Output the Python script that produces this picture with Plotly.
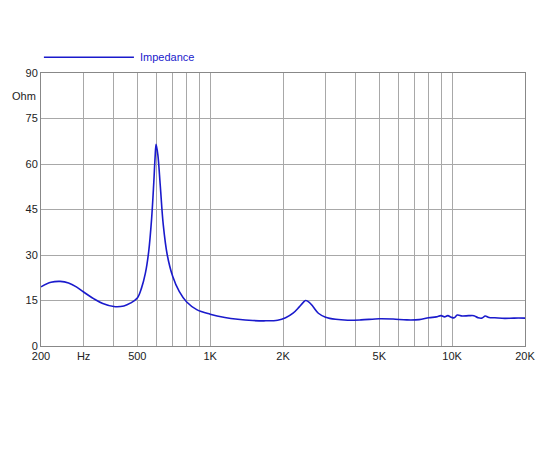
import plotly.graph_objects as go

# Impedance curve
freq = [200, 220, 240, 260, 280, 300, 330, 360, 400, 440, 470, 500, 520, 540, 557, 573, 585, 592, 598, 608,
        622, 640, 665, 700, 745, 800, 880, 1000, 1150, 1300, 1500, 1700, 1900, 2050, 2200, 2330, 2420, 2480,
        2560, 2660, 2800, 3000, 3300, 3700, 4200, 5000, 5700, 6500, 7300, 8000, 8600, 9000, 9300, 9600, 9900,
        10200, 10500, 11000, 11700, 12300, 12800, 13300, 13700, 14200, 15000, 16500, 18000, 20000]
imp = [19.5, 21.0, 21.3, 20.8, 19.5, 17.8, 15.6, 14.0, 13.0, 13.2, 14.2, 15.8, 19.0, 24.0, 31.0, 42.0, 54.0, 62.0, 66.5, 63.0,
       53.0, 40.0, 30.0, 23.0, 18.0, 14.5, 12.0, 10.5, 9.4, 8.8, 8.4, 8.3, 8.5, 9.3, 10.8, 12.8, 14.3, 15.0,
       14.5, 13.0, 10.8, 9.5, 8.8, 8.5, 8.6, 9.0, 8.9, 8.6, 8.7, 9.3, 9.6, 10.0, 9.6, 10.0, 9.5,
       9.3, 10.2, 9.9, 10.0, 10.0, 9.3, 9.2, 9.9, 9.4, 9.3, 9.1, 9.2, 9.2]

x_grid = [200, 300, 400, 500, 600, 700, 800, 900, 1000, 2000, 3000, 4000, 5000, 6000, 7000, 8000, 9000, 10000, 20000]
x_text = ["200", "Hz", "", "500", "", "", "", "", "1K", "2K", "", "", "5K", "", "", "", "", "10K", "20K"]
y_grid = [0, 15, 30, 45, 60, 75, 90]

blue = "#1a1acc"
font = dict(family="Liberation Sans, Arial", size=11, color="#222")

fig = go.Figure()
fig.add_trace(go.Scatter(x=freq, y=imp, mode="lines", name="Impedance",
                         line=dict(color=blue, width=1.6, shape="spline"), showlegend=False))

fig.update_xaxes(type="log", range=[2.30103, 4.30103], tickvals=x_grid, ticktext=x_text,
                 showgrid=True, gridcolor="#a8a8a8", gridwidth=1, showline=True, linecolor="#888",
                 mirror=True, ticks="", tickfont=font, zeroline=False, automargin=False)
fig.update_yaxes(range=[0, 90], tickvals=y_grid, showgrid=True, gridcolor="#a8a8a8", gridwidth=1,
                 showline=True, linecolor="#888", mirror=True, ticks="", tickfont=font, zeroline=False,
                 automargin=False)

# legend sample and label
fig.add_shape(type="line", xref="paper", yref="paper", x0=0.006, x1=0.192, y0=1.058, y1=1.058,
              line=dict(color=blue, width=1.5))
fig.add_annotation(text="Impedance", xref="paper", yref="paper", x=0.2, y=1.058, xanchor="left",
                   yanchor="middle", showarrow=False, font=dict(family="Liberation Sans, Arial", size=11, color=blue))
fig.add_annotation(text="Ohm", xref="paper", yref="y", x=0, y=82.5, xanchor="right", xshift=-3,
                   showarrow=False, font=font)

fig.update_layout(width=550, height=450, margin=dict(l=33, r=33, t=65, b=112),
                  plot_bgcolor="white", paper_bgcolor="white")

fig.write_html("out.html")
